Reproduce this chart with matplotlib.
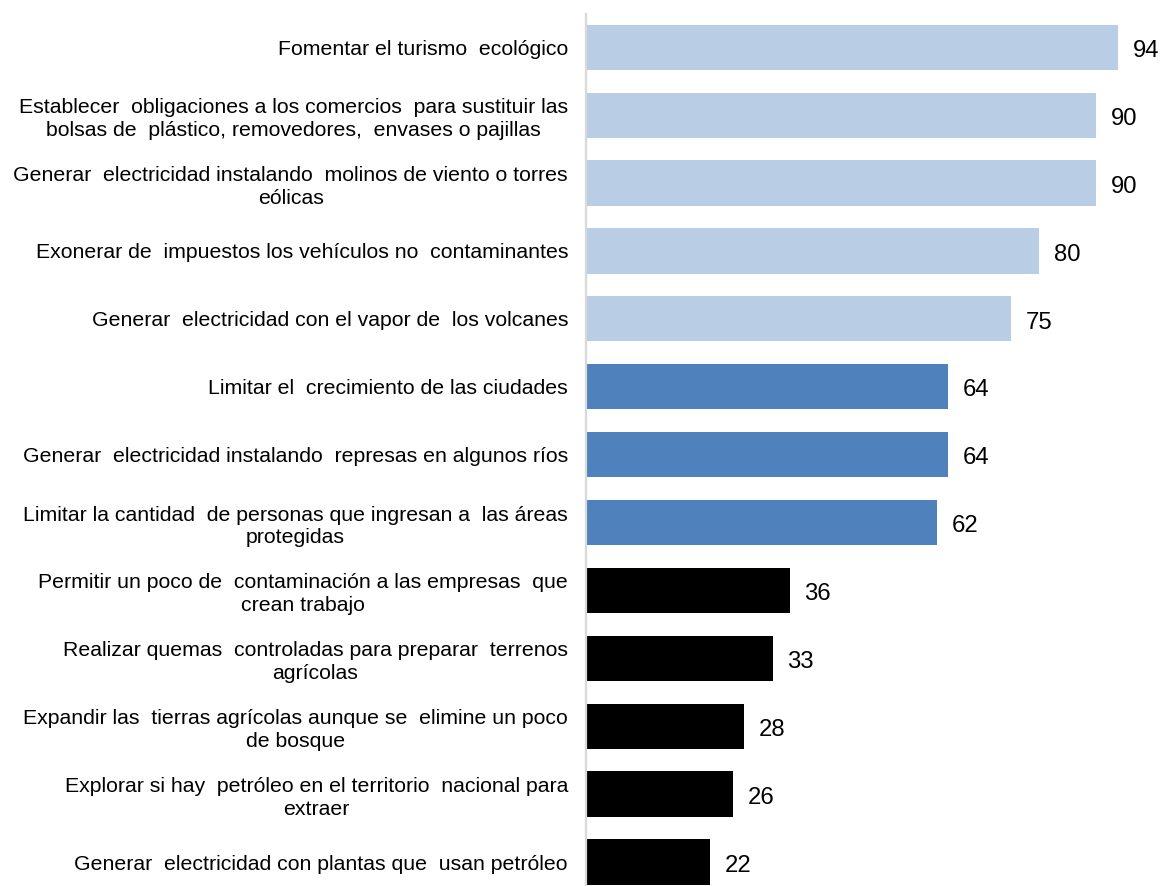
import matplotlib
matplotlib.use("Agg")
import matplotlib.pyplot as plt

# Medidas de política ambiental y su nivel de apoyo
medidas = [
    "Fomentar el turismo  ecológico",
    "Establecer  obligaciones a los comercios  para sustituir las\nbolsas de  plástico, removedores,  envases o pajillas",
    "Generar  electricidad instalando  molinos de viento o torres\neólicas",
    "Exonerar de  impuestos los vehículos no  contaminantes",
    "Generar  electricidad con el vapor de  los volcanes",
    "Limitar el  crecimiento de las ciudades",
    "Generar  electricidad instalando  represas en algunos ríos",
    "Limitar la cantidad  de personas que ingresan a  las áreas\nprotegidas",
    "Permitir un poco de  contaminación a las empresas  que\ncrean trabajo",
    "Realizar quemas  controladas para preparar  terrenos\nagrícolas",
    "Expandir las  tierras agrícolas aunque se  elimine un poco\nde bosque",
    "Explorar si hay  petróleo en el territorio  nacional para\nextraer",
    "Generar  electricidad con plantas que  usan petróleo",
]
apoyo = [94, 90, 90, 80, 75, 64, 64, 62, 36, 33, 28, 26, 22]
nivel = ["alto"] * 5 + ["medio"] * 3 + ["bajo"] * 5

colores_nivel = {"alto": "#B9CDE5", "medio": "#4F81BD", "bajo": "#000000"}

plt.rcParams["font.family"] = ["Liberation Sans", "DejaVu Sans"]

W, H = 1163, 886
fig = plt.figure(figsize=(W / 100, H / 100), dpi=100)
fig.patch.set_facecolor("white")

x0_px = 585.5
top_px = 14
ax = fig.add_axes([x0_px / W, 0, 1 - x0_px / W, (H - top_px) / H])

px_per_unit = 5.67
ax.set_xlim(0, (W - x0_px) / px_per_unit)
espacio = 67.9
ax.set_ylim(len(apoyo) - 1 + (H - 862) / espacio, -0.49)

pos = list(range(len(apoyo)))
ax.barh(pos, apoyo, height=0.667, color=[colores_nivel[n] for n in nivel],
        linewidth=0, zorder=2)

for y, v in zip(pos, apoyo):
    ax.annotate(str(v), xy=(v, y), xytext=(10.5, -7.0), textcoords="offset points",
                ha="left", va="baseline", fontsize=17.2, color="black")

ax.set_yticks(pos)
ax.set_yticklabels(medidas, fontsize=15.3, multialignment="center",
                   linespacing=1.25, color="black")
ax.tick_params(axis="y", length=0, pad=12.6)
ax.set_xticks([])

for lado in ["top", "right", "bottom"]:
    ax.spines[lado].set_visible(False)
ax.spines["left"].set_color("#D9D9D9")
ax.spines["left"].set_linewidth(1.6)
ax.spines["left"].set_zorder(3)

fig.savefig("out.png", dpi=100, facecolor="white")
